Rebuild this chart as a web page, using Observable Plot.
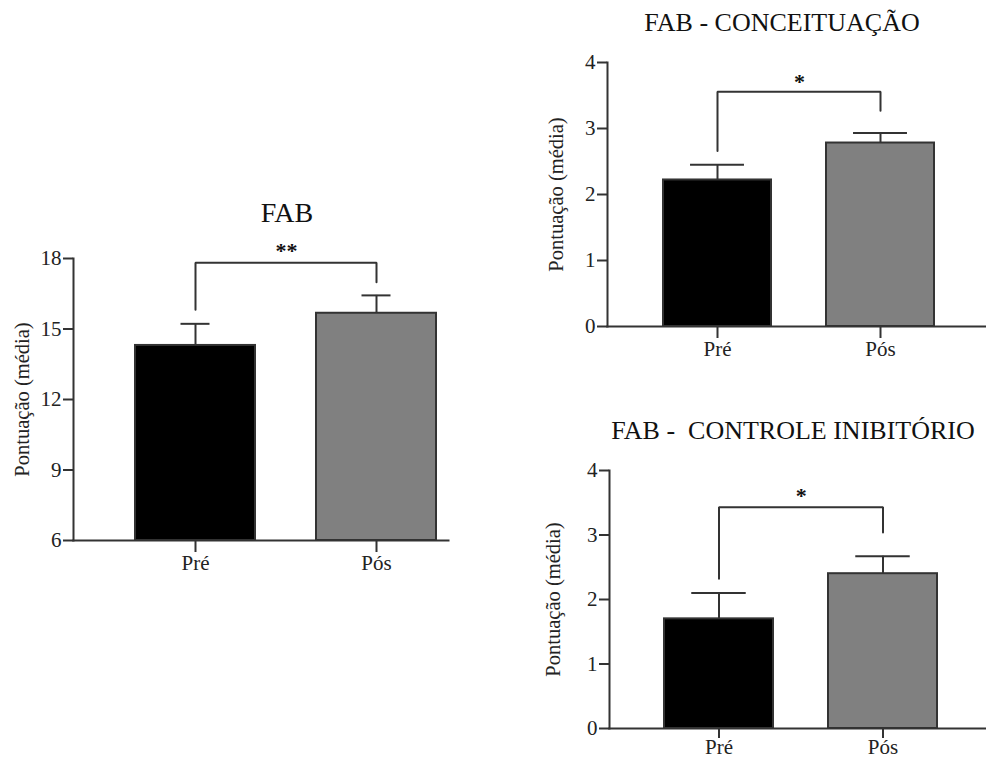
<!DOCTYPE html>
<html>
<head>
<meta charset="utf-8">
<script src="https://cdn.jsdelivr.net/npm/d3@7"></script>
<script src="https://cdn.jsdelivr.net/npm/@observablehq/plot@0.6"></script>
<style>
  html, body { margin: 0; padding: 0; background: #fff; }
  body { width: 986px; height: 760px; position: relative; overflow: hidden; font-family: "Liberation Serif", "Times New Roman", serif; }
  .panel { position: absolute; }
  .title { position: absolute; color: #111; white-space: pre; line-height: 1; transform: translate(-50%, -50%); }
</style>
</head>
<body>
<script>
// ---- data ----
const groups = ["Pré", "Pós"];
const barColors = ["#000000", "#808080"];
const yLabel = "Pontuação (média)";

const fabTitle = "FAB";
const fabMean = [14.3, 15.67];
const fabSem = [0.92, 0.76];
const fabTicks = [6, 9, 12, 15, 18];
const fabBracket = [15.82, 17.82, 17.82, 16.99];
const fabStars = "**";
const fabStarY = 18.34;

const concTitle = "FAB - CONCEITUAÇÃO";
const concMean = [2.22, 2.78];
const concSem = [0.23, 0.15];
const concTicks = [0, 1, 2, 3, 4];
const concBracket = [2.66, 3.555, 3.555, 3.27];
const concStars = "*";
const concStarY = 3.71;

const inibTitle = "FAB -  CONTROLE INIBITÓRIO";
const inibMean = [1.70, 2.40];
const inibSem = [0.40, 0.27];
const inibTicks = [0, 1, 2, 3, 4];
const inibBracket = [2.32, 3.43, 3.43, 3.04];
const inibStars = "*";
const inibStarY = 3.60;

const ink = "#333";
const serif = "Liberation Serif, Times New Roman, serif";
const fs = 21;

function makePanel(cfg) {
  const data = groups.map((g, i) => ({group: g, mean: cfg.means[i], hi: cfg.means[i] + cfg.sems[i]}));
  const br = [0, 0, 1, 1].map((k, j) => ({group: groups[k], y: cfg.bracket[j]}));
  const plotW = cfg.width - cfg.ml - cfg.mr;
  const step = plotW / (groups.length - cfg.pi + 2 * cfg.po);
  const bw = step * (1 - cfg.pi);
  const capInset = (bw - cfg.cap) / 2;
  const yMin = cfg.ticks[0];
  const yMax = cfg.ticks[cfg.ticks.length - 1];
  const plot = Plot.plot({
    width: cfg.width,
    height: cfg.height,
    marginLeft: cfg.ml, marginRight: cfg.mr, marginTop: cfg.mt, marginBottom: cfg.mb,
    style: {fontFamily: serif, fontSize: fs + "px", color: "#222", background: "transparent", overflow: "visible"},
    x: {domain: groups, paddingInner: cfg.pi, paddingOuter: cfg.po, align: cfg.align, label: null},
    y: {domain: [yMin, yMax], label: null},
    color: {domain: groups, range: barColors},
    marks: [
      Plot.barY(data, {x: "group", y1: yMin, y2: "mean", fill: "group", stroke: ink, strokeWidth: 2}),
      Plot.ruleX(data, {x: "group", y1: "mean", y2: "hi", stroke: ink, strokeWidth: 2}),
      Plot.tickY(data, {x: "group", y: "hi", stroke: ink, strokeWidth: 2, insetLeft: capInset, insetRight: capInset}),
      Plot.line(br, {x: "group", y: "y", stroke: ink, strokeWidth: 2, strokeLinejoin: "miter", curve: "linear"}),
      Plot.text([cfg.stars], {x: () => groups[0], y: () => cfg.starY, dx: step / 2, text: d => d, fontFamily: serif, fontSize: 22, fontWeight: "bold", fill: "#111"}),
      Plot.axisY({ticks: cfg.ticks, tickFormat: d => String(d), tickSize: 10, tickPadding: 2, stroke: ink, strokeWidth: 2, label: null, fontSize: fs, fontFamily: serif}),
      Plot.axisX({tickSize: cfg.xTickSize, tickPadding: cfg.xTickPad, stroke: ink, strokeWidth: 2, label: null, fontSize: fs, fontFamily: serif}),
      Plot.frame({anchor: "left", stroke: ink, strokeWidth: 2}),
      Plot.frame({anchor: "bottom", stroke: ink, strokeWidth: 2}),
      Plot.text([yLabel], {frameAnchor: "left", textAnchor: "middle", lineAnchor: "middle", dx: cfg.ylabelDx, rotate: -90, text: d => d, fontFamily: serif, fontSize: 20.5, fill: "#222"})
    ]
  });

  const wrap = document.createElement("div");
  wrap.className = "panel";
  wrap.style.left = cfg.left + "px";
  wrap.style.top = cfg.top + "px";
  wrap.appendChild(plot);
  document.body.appendChild(wrap);

  const t = document.createElement("div");
  t.className = "title";
  t.textContent = cfg.title;
  t.style.left = cfg.titleX + "px";
  t.style.top = cfg.titleY + "px";
  t.style.fontSize = cfg.titleSize + "px";
  document.body.appendChild(t);
}

makePanel({
  title: fabTitle, titleX: 287, titleY: 213, titleSize: 28,
  left: 0, top: 200, width: 450, height: 400, ml: 73, mr: 2, mt: 58, mb: 60,
  pi: 0.335, po: 0.198, align: 0.847, cap: 30, xTickSize: 12, xTickPad: 3,
  means: fabMean, sems: fabSem, ticks: fabTicks, bracket: fabBracket,
  stars: fabStars, starY: fabStarY, ylabelDx: -51
});

makePanel({
  title: concTitle, titleX: 782, titleY: 23, titleSize: 26,
  left: 540, top: 40, width: 446, height: 330, ml: 67, mr: 0, mt: 22, mb: 44,
  pi: 0.335, po: 0.323, align: 0.516, cap: 55, xTickSize: 12, xTickPad: 3,
  means: concMean, sems: concSem, ticks: concTicks, bracket: concBracket,
  stars: concStars, starY: concStarY, ylabelDx: -51
});

makePanel({
  title: inibTitle, titleX: 793, titleY: 431, titleSize: 26,
  left: 540, top: 450, width: 446, height: 310, ml: 69, mr: 0, mt: 20, mb: 32,
  pi: 0.335, po: 0.312, align: 0.528, cap: 55, xTickSize: 10, xTickPad: 1,
  means: inibMean, sems: inibSem, ticks: inibTicks, bracket: inibBracket,
  stars: inibStars, starY: inibStarY, ylabelDx: -56
});
</script>
</body>
</html>
